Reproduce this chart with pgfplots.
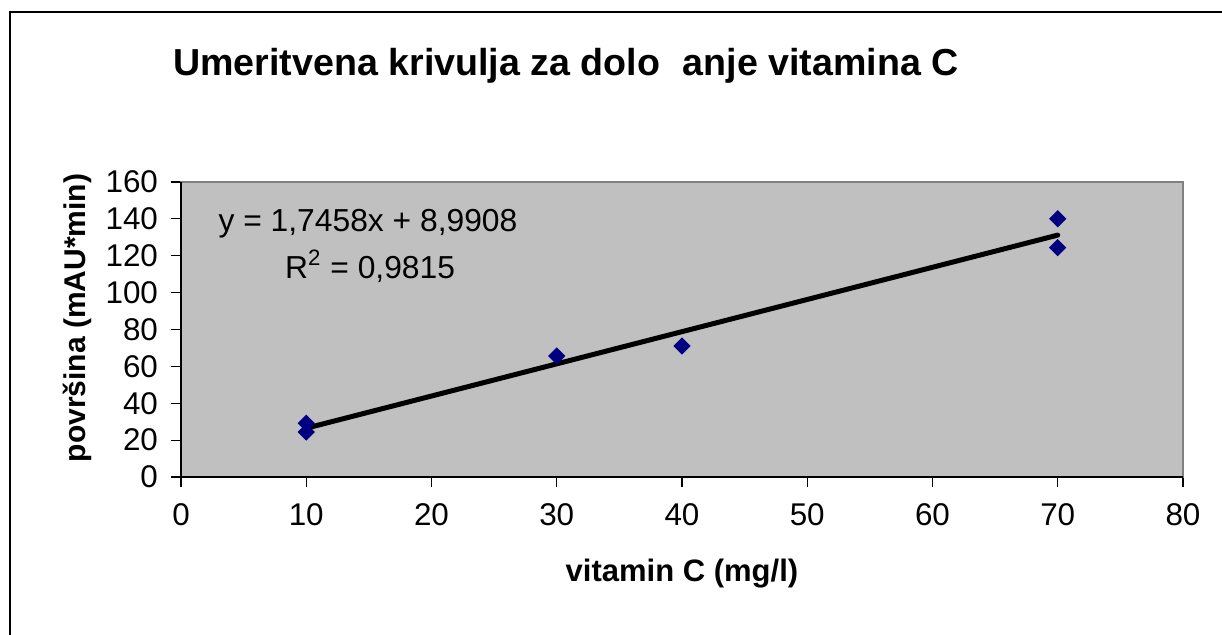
\documentclass[border=0pt]{standalone}
\usepackage{pgfplots}
\pgfplotsset{compat=1.18}
\usepackage{fontspec}
\setmainfont{Liberation Sans}
\definecolor{plotgray}{HTML}{C0C0C0}
\definecolor{framegray}{HTML}{808080}
\definecolor{navy}{HTML}{000080}
\begin{document}
\begin{tikzpicture}
\useasboundingbox (0,0) rectangle (611pt,317.5pt);
\draw[line width=0.7pt,black] (5pt,0) -- (5pt,311.5pt) -- (612pt,311.5pt);
\begin{axis}[
  at={(90.5pt,79pt)}, anchor=south west,
  scale only axis, width=501pt, height=147.5pt,
  xmin=0, xmax=80, ymin=0, ymax=160,
  xtick={0,10,...,80}, ytick={0,20,...,160},
  axis background/.style={fill=plotgray},
  axis line style={framegray, line width=1.2pt},
  tick align=outside, major tick length=5pt,
  tick style={black, line width=0.6pt},
  xtick pos=bottom, ytick pos=left,
  /pgf/number format/assume math mode=true,
  tick label style={font=\fontsize{15.7}{18}\selectfont},
  xticklabel style={yshift=-5pt},
  yticklabel style={xshift=-3pt},
  clip=false,
]
\draw[black, line width=0.8pt] (rel axis cs:0,1) -- (rel axis cs:0,0) -- (rel axis cs:1,0);
\addplot[only marks, mark=square*, mark size=2.85pt, mark options={rotate=45, fill=navy, draw=navy}]
  coordinates {(10,29.1) (10,24.4) (30,65.6) (40,71.0) (70,140.0) (70,124.4)};
\addplot[black, line width=2.5pt, line cap=round] coordinates {(10,26.45) (70,131.19)};
\node[anchor=base, font=\fontsize{15.9}{18}\selectfont] at (axis cs:14.93,132.9) {y = 1,7458x + 8,9908};
\node[anchor=base, font=\fontsize{15.9}{18}\selectfont] at (axis cs:15.1,107.9) {R\textsuperscript{2} = 0,9815};
\end{axis}
\node[anchor=base, font=\fontsize{18.8}{22}\selectfont\bfseries] at (283pt,279.5pt) {Umeritvena krivulja za dolo\hspace{0.6em}anje vitamina C};
\node[anchor=base, font=\fontsize{15.5}{18}\selectfont\bfseries] at (341pt,26.5pt) {vitamin C (mg/l)};
\node[rotate=90, anchor=center, font=\fontsize{15}{18}\selectfont\bfseries] at (38.5pt,158.5pt) {površina (mAU*min)};
\end{tikzpicture}
\end{document}
